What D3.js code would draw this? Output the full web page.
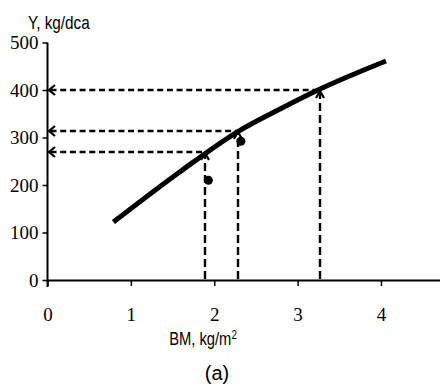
<!DOCTYPE html>
<html lang="en">
<head>
<meta charset="UTF-8">
<title>Y vs BM</title>
<script src="https://d3js.org/d3.v7.min.js"></script>
<style>
  body { margin: 0; background: #fff; }
</style>
</head>
<body>
<div id="chart"></div>
<script>
// fitted curve (BM, Y)
var curveX = [0.79, 1.59, 2.28, 2.79, 3.27, 4.06];
var curveY = [122, 228, 312, 360, 402, 461];
// reading lines (dashed, with arrows)
var readX = [1.89, 2.28, 3.27];
var readY = [269, 314, 400];
// observed points
var dotX = [1.93, 2.32];
var dotY = [210, 292];
var xTicks = [0, 1, 2, 3, 4];
var yTicks = [0, 100, 200, 300, 400, 500];

var W = 440, H = 387;
var svg = d3.select("#chart").append("svg")
    .attr("width", W).attr("height", H);

var x = d3.scaleLinear().domain([0, 4.72]).range([47.5, 441]);
var y = d3.scaleLinear().domain([0, 500]).range([280, 42.5]);

// x axis
var xAxis = svg.append("g")
    .attr("transform", "translate(0," + y(0) + ")")
    .call(d3.axisBottom(x).tickValues(xTicks).tickFormat(d3.format("d"))
        .tickSize(6).tickSizeOuter(0).tickPadding(22));
xAxis.select(".domain").attr("stroke-width", 2);
xAxis.selectAll(".tick line").attr("stroke-width", 1.5);
xAxis.selectAll(".tick text")
    .style("font-family", "'Liberation Serif', 'Times New Roman', serif")
    .style("font-size", "19px").attr("fill", "#000");

// y axis
var yAxis = svg.append("g")
    .attr("transform", "translate(" + x(0) + ",0)")
    .call(d3.axisLeft(y).tickValues(yTicks).tickSize(5).tickSizeOuter(0).tickPadding(4));
yAxis.select(".domain").attr("stroke-width", 2)
    .attr("d", "M0," + (y(0) + 7) + "V" + y(500));
yAxis.selectAll(".tick line").attr("stroke-width", 1.5);
yAxis.selectAll(".tick text")
    .style("font-family", "'Liberation Serif', 'Times New Roman', serif")
    .style("font-size", "19px").attr("fill", "#000");

// dashed reading lines
readX.forEach(function(bx, i) {
    var px = Math.round(x(bx)), py = Math.round(y(readY[i]));
    svg.append("line")
        .attr("x1", x(0) + 3).attr("y1", py)
        .attr("x2", px).attr("y2", py)
        .attr("stroke", "#000").attr("stroke-width", 2.6)
        .attr("stroke-dasharray", "6,3.7");
    svg.append("line")
        .attr("x1", px).attr("y1", y(0) - 1)
        .attr("x2", px).attr("y2", py + 2)
        .attr("stroke", "#000").attr("stroke-width", 2.4)
        .attr("stroke-dasharray", "8,4");
    // left arrow head at the y axis
    var ax = x(0) + 1.5;
    svg.append("path")
        .attr("d", "M" + (ax + 6) + "," + (py - 5) + "L" + ax + "," + py + "L" + (ax + 6) + "," + (py + 5))
        .attr("fill", "none").attr("stroke", "#000").attr("stroke-width", 2.2);
    // up arrow head at the curve
    svg.append("path")
        .attr("d", "M" + (px - 4) + "," + (py + 8) + "L" + px + "," + (py + 1) + "L" + (px + 4) + "," + (py + 8))
        .attr("fill", "none").attr("stroke", "#000").attr("stroke-width", 2.2);
});

// curve
var curveData = curveX.map(function(d, i) { return [d, curveY[i]]; });
svg.append("path")
    .datum(curveData)
    .attr("d", d3.line()
        .x(function(d) { return x(d[0]); })
        .y(function(d) { return y(d[1]); })
        .curve(d3.curveMonotoneX))
    .attr("fill", "none").attr("stroke", "#000").attr("stroke-width", 5);

// observed dots
svg.selectAll(".dot")
    .data(dotX.map(function(d, i) { return [d, dotY[i]]; }))
    .enter().append("circle")
    .attr("cx", function(d) { return x(d[0]); })
    .attr("cy", function(d) { return y(d[1]); })
    .attr("r", 4.5)
    .attr("fill", "#000");

// titles
svg.append("text")
    .attr("transform", "translate(28,29) scale(0.85,1)")
    .style("font-family", "'Liberation Sans', Arial, sans-serif")
    .style("font-size", "18px")
    .text("Y, kg/dca");

var bm = svg.append("text")
    .attr("transform", "translate(203,345) scale(0.82,1)")
    .attr("text-anchor", "middle")
    .style("font-family", "'Liberation Sans', Arial, sans-serif")
    .style("font-size", "18px");
bm.append("tspan").text("BM, kg/m");
bm.append("tspan").attr("dy", -6).style("font-size", "12px").text("2");

svg.append("text")
    .attr("x", 217).attr("y", 380)
    .attr("text-anchor", "middle")
    .style("font-family", "'Liberation Sans', Arial, sans-serif")
    .style("font-size", "20px")
    .text("(a)");
</script>
</body>
</html>
